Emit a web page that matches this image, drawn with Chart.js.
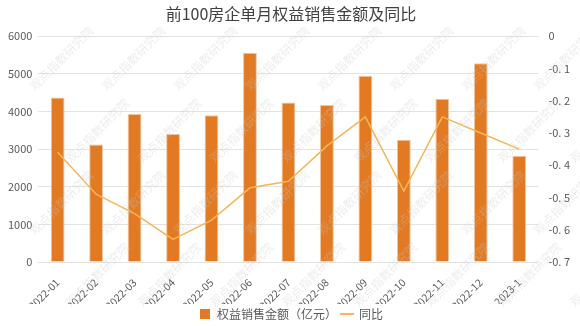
<!DOCTYPE html>
<html>
<head>
<meta charset="utf-8">
<script src="https://cdn.jsdelivr.net/npm/chart.js@4/dist/chart.umd.min.js"></script>
<style>
  html, body { margin: 0; padding: 0; background: #fff; }
  #wrap { width: 580px; height: 326px; }
</style>
</head>
<body>
<div id="wrap"><canvas id="salesChart"></canvas></div>
<script>
// monthly data
const months = ['2022-01', '2022-02', '2022-03', '2022-04', '2022-05', '2022-06', '2022-07',
                '2022-08', '2022-09', '2022-10', '2022-11', '2022-12', '2023-1'];
const salesAmount = [4370, 3120, 3930, 3400, 3900, 5560, 4240, 4170, 4950, 3250, 4340, 5280, 2820];
const yoyRate = [-0.36, -0.49, -0.55, -0.63, -0.57, -0.47, -0.45, -0.34, -0.25, -0.48, -0.25, -0.30, -0.35];
const leftTicks = [0, 1000, 2000, 3000, 4000, 5000, 6000];
const rightTicks = [0, -0.1, -0.2, -0.3, -0.4, -0.5, -0.6, -0.7];

const FONT = '"Noto Sans CJK SC", "Noto Sans", sans-serif';

// faint diagonal watermark across the canvas
const watermark = {
    id: 'watermark',
    afterDatasetsDraw(chart) {
        const ctx = chart.ctx;
        ctx.save();
        ctx.font = '12px ' + FONT;
        ctx.fillStyle = 'rgba(200,200,200,0.35)';
        for (let y = 60; y < 330; y += 72) {
            for (let x = 30; x < 600; x += 72) {
                ctx.save();
                ctx.translate(x + ((y / 72) % 2) * 36, y);
                ctx.rotate(-Math.PI / 4);
                ctx.fillText('观点指数研究院', -40, 0);
                ctx.restore();
            }
        }
        ctx.restore();
    }
};

new Chart(document.getElementById('salesChart'), {
    data: {
        labels: months,
        datasets: [
            {
                type: 'line',
                label: '同比',
                data: yoyRate,
                yAxisID: 'y1',
                borderColor: '#F5B65A',
                backgroundColor: '#F5B65A',
                borderWidth: 1.5,
                pointRadius: 0,
                tension: 0,
                order: 0
            },
            {
                type: 'bar',
                label: '权益销售金额（亿元）',
                data: salesAmount,
                yAxisID: 'y',
                backgroundColor: '#E27A23',
                borderColor: '#F3C7A0',
                borderWidth: 1,
                barPercentage: 0.36,
                categoryPercentage: 1,
                order: 1
            }
        ]
    },
    options: {
        responsive: true,
        maintainAspectRatio: false,
        animation: false,
        layout: { padding: { left: 2, right: 0, top: 0, bottom: -4 } },
        plugins: {
            title: {
                display: true,
                text: '前100房企单月权益销售金额及同比',
                color: '#404040',
                font: { family: FONT, size: 16, weight: 'normal' },
                padding: { top: 4, bottom: 13 }
            },
            legend: {
                position: 'bottom',
                reverse: true,
                labels: {
                    color: '#595959',
                    font: { family: FONT, size: 12 },
                    boxWidth: 16,
                    boxHeight: 10,
                    padding: 4,
                    generateLabels(chart) {
                        return chart.data.datasets.map((ds, i) => ({
                            text: ds.label,
                            fillStyle: ds.type === 'bar' ? ds.backgroundColor : 'rgba(0,0,0,0)',
                            strokeStyle: ds.type === 'bar' ? ds.backgroundColor : ds.borderColor,
                            lineWidth: ds.type === 'bar' ? 0 : 2,
                            pointStyle: ds.type === 'bar' ? 'rect' : 'line',
                            fontColor: '#595959',
                            datasetIndex: i
                        }));
                    },
                    usePointStyle: true
                }
            },
            tooltip: { enabled: false }
        },
        scales: {
            x: {
                grid: { display: false },
                border: { display: false },
                ticks: {
                    color: '#595959',
                    font: { family: FONT, size: 10.5 },
                    minRotation: 45,
                    maxRotation: 45,
                    autoSkip: false,
                    padding: 6
                },
                // keep the rotated labels band compact
                afterFit(scale) { scale.height = 42; }
            },
            y: {
                position: 'left',
                min: 0,
                max: 6000,
                afterBuildTicks(axis) { axis.ticks = leftTicks.map(v => ({ value: v })); },
                grid: { color: '#E3E3E3', drawTicks: false },
                border: { display: false },
                ticks: {
                    color: '#595959',
                    font: { family: FONT, size: 11 },
                    padding: 6,
                    callback: v => String(v)
                }
            },
            y1: {
                position: 'right',
                min: -0.7,
                max: 0,
                afterBuildTicks(axis) { axis.ticks = rightTicks.map(v => ({ value: v })); },
                grid: { display: false, drawTicks: false },
                border: { display: false },
                ticks: {
                    color: '#595959',
                    font: { family: FONT, size: 11 },
                    padding: 10,
                    callback: v => v === 0 ? '0' : '-0. ' + Math.round(-v * 10)
                }
            }
        }
    },
    plugins: [watermark]
});
</script>
</body>
</html>
